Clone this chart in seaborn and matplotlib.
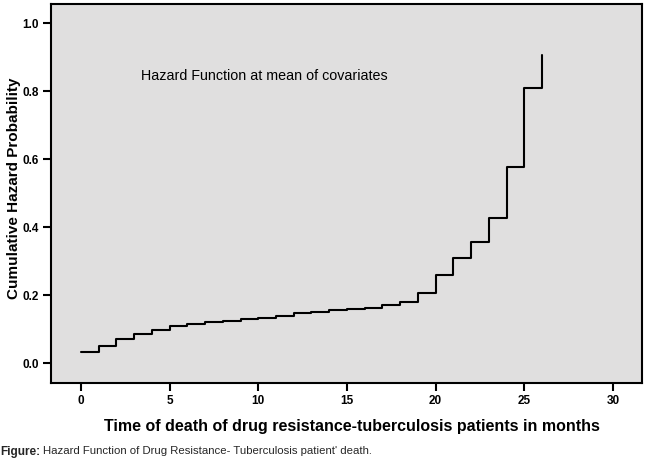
import matplotlib
matplotlib.use("Agg")
import matplotlib.pyplot as plt
import seaborn as sns
import pandas as pd

months = list(range(0, 27))
cum_hazard = [0.032, 0.050, 0.070, 0.087, 0.099, 0.109, 0.115, 0.120, 0.125,
              0.129, 0.133, 0.138, 0.147, 0.152, 0.156, 0.159, 0.163, 0.170,
              0.181, 0.207, 0.258, 0.309, 0.357, 0.426, 0.576, 0.809, 0.905]
x_ticks = [0, 5, 10, 15, 20, 25, 30]
y_ticks = [0.0, 0.2, 0.4, 0.6, 0.8, 1.0]

sns.set_theme(style="white")
plt.rcParams['font.family'] = ['Liberation Sans', 'DejaVu Sans']

df = pd.DataFrame({"t": months, "h": cum_hazard})

fig = plt.figure(figsize=(6.5, 4.67), dpi=100)
ax = fig.add_axes([51/650, (467-383)/467, 591/650, 379/467])
ax.set_facecolor("#e0dfdf")

sns.lineplot(data=df, x="t", y="h", ax=ax, estimator=None, sort=False,
             drawstyle="steps-post", color="black", linewidth=1.5)

ax.set_xlim(-1.69, 31.64)
ax.set_ylim(-0.058, 1.056)
ax.set_xticks(x_ticks)
ax.set_yticks(y_ticks)
ax.set_xticklabels([str(v) for v in x_ticks], fontsize=8.5, fontweight="bold")
ax.set_yticklabels([f"{v:.1f}" for v in y_ticks], fontsize=8.5, fontweight="bold")
ax.tick_params(axis="both", direction="out", length=6, width=1.5, color="black",
               labelcolor="black", bottom=True, left=True, pad=2.5)
for s in ax.spines.values():
    s.set_visible(True)
    s.set_color("black")
    s.set_linewidth(1.5)

ax.set_xlabel("")
ax.set_ylabel("")
fig.text(352/650, 1 - 426/467, "Time of death of drug resistance-tuberculosis patients in months",
         ha="center", va="center", fontsize=11.5, fontweight="bold", color="black")
fig.text(14/650, 1 - 188/467, "Cumulative Hazard Probability", rotation=90,
         ha="center", va="center", fontsize=11, fontweight="bold", color="black")

ax.text(3.38, 0.843, "Hazard Function at mean of covariates", fontsize=10.25,
        ha="left", va="center", color="black")

fig.text(0.0, 1 - 451.5/467, "Figure:", fontsize=8.5, fontweight="bold",
         ha="left", va="center")
fig.text(43/650, 1 - 451.5/467, "Hazard Function of Drug Resistance- Tuberculosis patient' death.",
         fontsize=8.2, ha="left", va="center")

fig.savefig("out.png", dpi=100, facecolor="white")
